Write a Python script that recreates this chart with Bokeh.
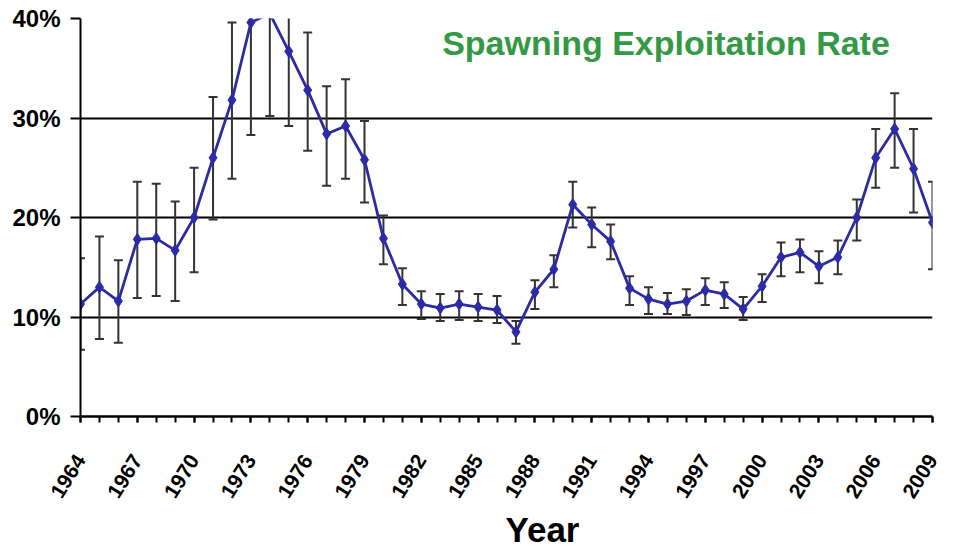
import math
from bokeh.plotting import figure
from bokeh.models import FixedTicker, PrintfTickFormatter, Range1d, Label, Title, ColumnDataSource
from bokeh.embed import file_html
from bokeh.resources import INLINE

# ---- data ----
years = list(range(1964, 2010))
rate = [11.3, 13.0, 11.6, 17.8, 17.9, 16.7, 20.0, 26.0, 31.8, 39.6,
        40.5, 36.7, 32.8, 28.4, 29.2, 25.8, 17.9, 13.3, 11.3, 10.9,
        11.3, 11.0, 10.7, 8.5, 12.5, 14.8, 21.3, 19.3, 17.6, 12.9,
        11.8, 11.3, 11.6, 12.7, 12.3, 10.8, 13.1, 16.0, 16.5, 15.1,
        16.0, 20.0, 26.0, 28.9, 24.9, 19.5]
upper = [15.9, 18.1, 15.7, 23.6, 23.4, 21.6, 25.0, 32.1, 39.6, 50.9,
         50.8, 44.2, 38.6, 33.2, 33.9, 29.7, 20.2, 14.9, 12.6, 12.3,
         12.6, 12.3, 12.1, 9.6, 13.7, 16.2, 23.6, 21.0, 19.3, 14.1,
         13.0, 12.4, 12.8, 13.9, 13.5, 12.0, 14.3, 17.5, 17.8, 16.6,
         17.7, 21.8, 28.9, 32.5, 28.9, 23.6]
lower = [6.7, 7.8, 7.4, 11.9, 12.1, 11.6, 14.5, 19.8, 23.9, 28.3,
         30.2, 29.2, 26.7, 23.2, 23.9, 21.5, 15.3, 11.2, 9.8, 9.6,
         9.7, 9.6, 9.4, 7.3, 10.8, 13.0, 19.0, 17.0, 15.8, 11.2,
         10.3, 10.3, 10.2, 11.2, 10.9, 9.7, 11.5, 14.1, 14.5, 13.4,
         14.3, 17.7, 23.0, 25.0, 20.5, 14.8]
label_years = list(range(1964, 2010, 3))
y_ticks = [0, 10, 20, 30, 40]
title_text = "Spawning Exploitation Rate"
x_title = "Year"

src = ColumnDataSource(dict(year=years, rate=rate, upper=upper, lower=lower))

FONT = "Liberation Sans"

p = figure(width=944, height=539,
           x_range=Range1d(1964, 2009), y_range=Range1d(0, 40),
           output_backend="svg", toolbar_location=None,
           min_border_left=80, min_border_right=12,
           min_border_top=18, min_border_bottom=20)
p.frame_height = 398
p.outline_line_color = None
p.background_fill_color = "white"
p.border_fill_color = "white"

p.xgrid.visible = False
p.ygrid.grid_line_color = "black"
p.ygrid.grid_line_width = 2
p.ygrid.ticker = FixedTicker(ticks=y_ticks)

# y axis
p.yaxis.ticker = FixedTicker(ticks=y_ticks)
p.yaxis.formatter = PrintfTickFormatter(format="%d%%")
p.yaxis.major_label_text_font = FONT
p.yaxis.major_label_text_font_style = "bold"
p.yaxis.major_label_text_font_size = "24px"
p.yaxis.major_label_text_color = "black"
p.yaxis.major_tick_out = 10
p.yaxis.major_tick_in = 0
p.yaxis.minor_tick_line_color = None
p.yaxis.major_tick_line_width = 2
p.yaxis.axis_line_width = 2
p.yaxis.axis_line_color = "black"
p.yaxis.major_tick_line_color = "black"
p.yaxis.major_label_standoff = 10

# x axis
p.xaxis.ticker = FixedTicker(ticks=label_years, minor_ticks=years)
p.xaxis.major_label_orientation = math.radians(58)
p.xaxis.major_label_text_font = FONT
p.xaxis.major_label_text_font_style = "bold"
p.xaxis.major_label_text_font_size = "21px"
p.xaxis.major_label_text_color = "black"
p.xaxis.major_label_standoff = 34
p.xaxis.major_tick_out = 6
p.xaxis.major_tick_in = 0
p.xaxis.minor_tick_out = 6
p.xaxis.minor_tick_in = 0
p.xaxis.major_tick_line_width = 2
p.xaxis.minor_tick_line_width = 2
p.xaxis.major_tick_line_color = "black"
p.xaxis.minor_tick_line_color = "black"
p.xaxis.axis_line_width = 2.5
p.xaxis.axis_line_color = "black"

# error bars
err_color = "#333333"
p.segment(x0="year", y0="lower", x1="year", y1="upper", source=src,
          line_color=err_color, line_width=2)
p.scatter(x="year", y="upper", source=src, marker="dash", size=9,
          line_color=err_color, line_width=2)
p.scatter(x="year", y="lower", source=src, marker="dash", size=9,
          line_color=err_color, line_width=2)

# series
blue = "#2b2ba6"
p.line(x="year", y="rate", source=src, line_color=blue, line_width=2.8)
p.scatter(x="year", y="rate", source=src, marker="diamond", size=12,
          fill_color=blue, line_color=blue)

p.add_layout(Label(x=1983.1, y=37.5, text=title_text,
                   text_font=FONT, text_font_style="bold",
                   text_font_size="34px", text_color="#339944",
                   text_align="left", text_baseline="middle"))

p.add_layout(Title(text=x_title, align="left", offset=425, standoff=2,
                   text_font=FONT, text_font_style="bold",
                   text_font_size="35px", text_color="black"), "below")

open("out.html", "w").write(file_html(p, INLINE))
